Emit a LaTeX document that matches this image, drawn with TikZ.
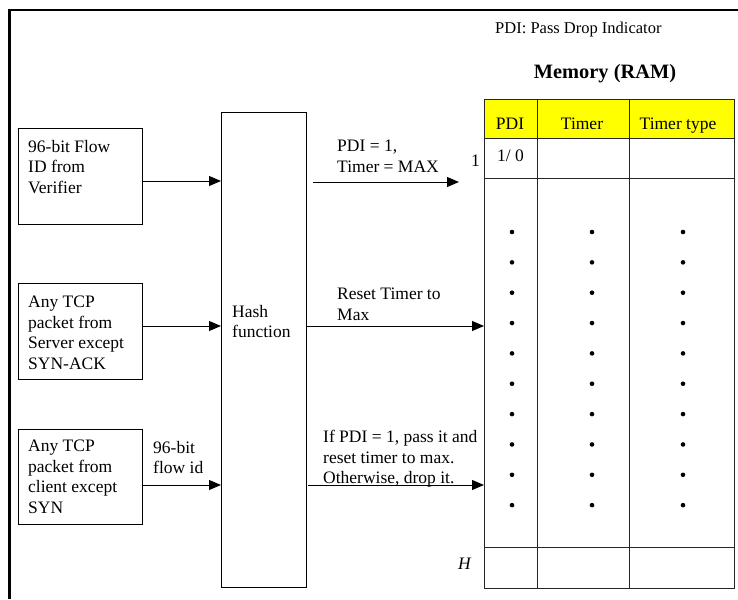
\documentclass[tikz,border=0pt]{standalone}
\usepackage{fontspec}
\setmainfont{Liberation Serif}
\usetikzlibrary{arrows.meta}
\definecolor{hdryellow}{HTML}{FFFF00}
\begin{document}
\begin{tikzpicture}[x=1pt,y=-1pt,
  txt/.style={inner sep=0pt, anchor=north west, align=left, font=\fontsize{17.5}{20.5}\selectfont},
  box/.style={draw, line width=1pt, inner sep=0pt, anchor=north west},
  arr/.style={line width=1pt, -{Triangle[length=12pt,width=10pt]}},
  grid/.style={line width=1pt, draw=black!85},
  hdr/.style={inner sep=0pt, anchor=base, font=\fontsize{17.5}{20.5}\selectfont},
  dotmark/.style={fill=black}
]
\useasboundingbox (0,0) rectangle (738,599);
% outer frame (cut by the page at right and bottom)
\draw[line width=2.5pt] (9.5,599) -- (9.5,10) -- (738,10);

% legend and title
\node[txt, font=\fontsize{16.5}{19}\selectfont] (legend) at (495,21.5) {PDI: Pass Drop Indicator};
\node[inner sep=0pt, anchor=north, font=\fontsize{20.4}{24}\selectfont\bfseries] (title) at (605,64) {Memory (RAM)};

% input boxes
\node[box, minimum width=124pt, minimum height=96pt] (b1) at (18,128) {};
\node[box, minimum width=124pt, minimum height=96pt] (b2) at (18,283) {};
\node[box, minimum width=124pt, minimum height=95pt] (b3) at (18,429) {};
\node[txt] (t1) at (28,140) {96-bit Flow\\ID from\\Verifier};
\node[txt] (t2) at (28,296) {Any TCP\\packet from\\Server except\\SYN-ACK};
\node[txt] (t3) at (28,440) {Any TCP\\packet from\\client except\\SYN};
\node[txt] (fid) at (153,441) {96-bit\\flow id};

% hash function
\node[box, minimum width=85pt, minimum height=475pt] (hash) at (221,112) {};
\node[txt] (htxt) at (232,305) {Hash\\function};

\draw[arr] (b1.east |- 0,181) -- (hash.west |- 0,181);
\draw[arr] (b2.east |- 0,326) -- (hash.west |- 0,326);
\draw[arr] (b3.east |- 0,485) -- (hash.west |- 0,485);

% memory table
\fill[hdryellow] (484,99) rectangle (734,138);
\node[draw, grid, inner sep=0pt, anchor=north west, minimum width=250pt, minimum height=489pt] (mem) at (484,99) {};
\draw[grid] (484,138) -- (734,138);
\draw[grid] (484,178) -- (734,178);
\draw[grid] (484,547) -- (734,547);
\draw[grid] (537,99) -- (537,588);
\draw[grid] (629,99) -- (629,588);
\node[hdr] (hpdi) at (510,129) {PDI};
\node[hdr] (htimer) at (582,129) {Timer};
\node[hdr] (htype) at (678,129) {Timer type};
\node[txt] (v10) at (497,150) {1/ 0};
\node[txt] (one) at (471,155) {1};
\node[txt] (hh) at (458,558) {\textit{H}};
\foreach \i in {0,...,9} {
  \foreach \x in {512,592,683} {
    \fill[dotmark] (\x,{232+30.35*\i}) circle (2.3pt);
  }
}

% output arrows
\coordinate (a1s) at (313,182);
\coordinate (a1e) at (459,182);
\draw[arr] (a1s) -- (a1e);
\node[txt] (l1) at (337,140) {PDI = 1,\\Timer = MAX};
\draw[arr] (hash.east |- 0,326) -- (mem.west |- 0,326);
\node[txt] (l2) at (337,288) {Reset Timer to\\Max};
\coordinate (a3s) at (308,485);
\draw[arr] (a3s) -- (mem.west |- 0,485);
\node[txt] (l3) at (323,430) {If PDI = 1, pass it and\\reset timer to max.\\Otherwise, drop it.};
\end{tikzpicture}
\end{document}
